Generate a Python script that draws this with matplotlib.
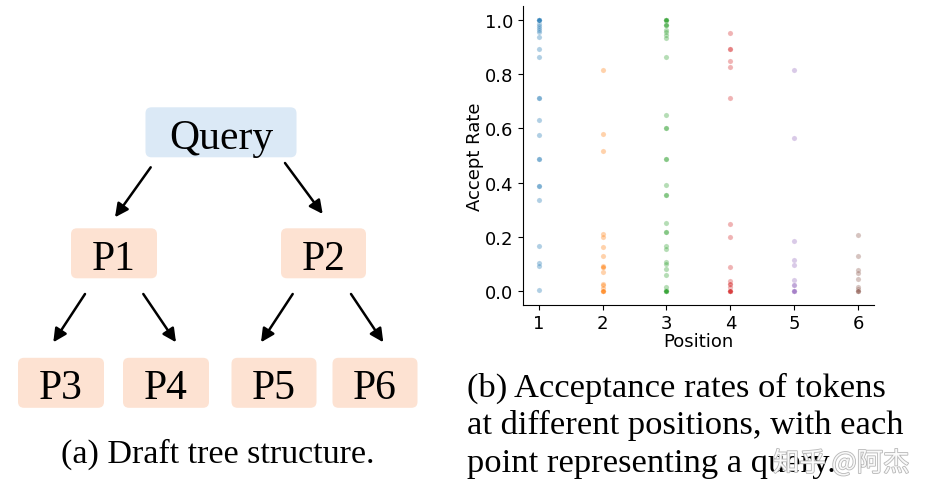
import matplotlib
matplotlib.use("Agg")
import matplotlib.pyplot as plt
from matplotlib.patches import FancyBboxPatch
import matplotlib.patheffects as pe

# accept rate of each query, per draft position
pos1 = [1.0] * 5 + [0.985, 0.977, 0.97, 0.961, 0.955, 0.936, 0.893, 0.861, 0.71, 0.71,
                    0.63, 0.575, 0.486, 0.486, 0.389, 0.389, 0.336, 0.168, 0.103, 0.094, 0.006]
pos2 = [0.814, 0.577, 0.516, 0.21, 0.201, 0.164, 0.13, 0.094, 0.088, 0.088, 0.07,
        0.026, 0.021, 0.011] + [0.0] * 4
pos3 = [1.0] * 5 + [0.979] * 3 + [0.961, 0.955, 0.942, 0.933, 0.862, 0.648, 0.599, 0.599,
                                  0.488, 0.488, 0.391, 0.354, 0.354, 0.25, 0.217, 0.217, 0.168,
                                  0.156, 0.107, 0.099, 0.082, 0.06, 0.017, 0.005] + [0.0] * 5
pos4 = [0.952, 0.891, 0.891, 0.848, 0.827, 0.712, 0.249, 0.2, 0.089, 0.038, 0.026,
        0.026, 0.014] + [0.0] * 5
pos5 = [0.814, 0.565, 0.184, 0.113, 0.096, 0.042, 0.023, 0.023] + [0.0] * 4
pos6 = [0.205, 0.128, 0.078, 0.066, 0.044, 0.017, 0.008] + [0.0] * 3
positions = [1, 2, 3, 4, 5, 6]
rates = [pos1, pos2, pos3, pos4, pos5, pos6]
colors = ['#1f77b4', '#ff7f0e', '#2ca02c', '#d62728', '#9467bd', '#8c564b']

# draft tree: label, box centre (pixels), box colour
nodes = ['Query', 'P1', 'P2', 'P3', 'P4', 'P5', 'P6']
node_x = [221, 114, 323.5, 61, 166, 274, 375]
node_y = [133.3, 254.3, 254.3, 383.8, 383.8, 383.8, 383.8]
node_w = [151, 86, 85, 86, 86, 85, 85]
node_fill = ['#dbe9f6'] + ['#fde2d2'] * 6
edges = [((150.7, 168.3), (115, 218.3)), ((285, 164), (322.7, 215)),
         ((85, 295), (53.3, 343.3)), ((143.3, 295), (176, 343.3)),
         ((292.7, 295), (261, 343.3)), ((351, 295), (383.3, 343.3))]

serif = 'Liberation Serif'

fig = plt.figure(figsize=(9.4, 5.02), dpi=100)

# canvas in pixel units for the tree and captions
bg = fig.add_axes([0, 0, 1, 1])
bg.set_xlim(0, 940)
bg.set_ylim(502, 0)
bg.axis('off')

for lab, cx, cy, w, fc in zip(nodes, node_x, node_y, node_w, node_fill):
    bg.add_patch(FancyBboxPatch((cx - w / 2, cy - 25), w, 50,
                                boxstyle='round,pad=0,rounding_size=6',
                                fc=fc, ec='none'))
    bg.text(cx, cy + 15.7, lab, ha='center', va='baseline',
            fontsize=30, family=serif)

for start, end in edges:
    bg.annotate('', xy=end, xytext=start,
                arrowprops=dict(arrowstyle='-|>', lw=1.8, color='black',
                                mutation_scale=20, shrinkA=0, shrinkB=0))

bg.text(218, 463, '(a) Draft tree structure.', ha='center', va='baseline',
        fontsize=24.5, family=serif)
cap_b = ['(b) Acceptance rates of tokens',
         'at different positions, with each',
         'point representing a query.']
for i, line in enumerate(cap_b):
    bg.text(467, 396.7 + 37.5 * i, line, ha='left', va='baseline',
            fontsize=24.8, family=serif)

# watermark
bg.text(773, 472, '知乎 @阿杰', ha='left', va='baseline', fontsize=19,
        family=['Noto Sans CJK SC', 'DejaVu Sans'], color='white', alpha=0.9,
        path_effects=[pe.withStroke(linewidth=1.2, foreground='#b0b0b0')])

# scatter panel
ax = fig.add_axes([0.556, 0.391, 0.374, 0.595])
for p, r, c in zip(positions, rates, colors):
    ax.scatter([p] * len(r), r, s=14, color=c, alpha=0.35,
               edgecolor='white', linewidth=0.3)
ax.set_xticks(positions)
ax.set_yticks([0.0, 0.2, 0.4, 0.6, 0.8, 1.0])
ax.set_xlim(0.75, 6.25)
ax.set_ylim(-0.05, 1.05)
ax.spines['top'].set_visible(False)
ax.spines['right'].set_visible(False)
ax.tick_params(labelsize=13)
ax.set_xlabel('Position', fontsize=13, labelpad=0)
ax.set_ylabel('Accept Rate', fontsize=13, labelpad=0)

fig.savefig('out.png', dpi=100)
